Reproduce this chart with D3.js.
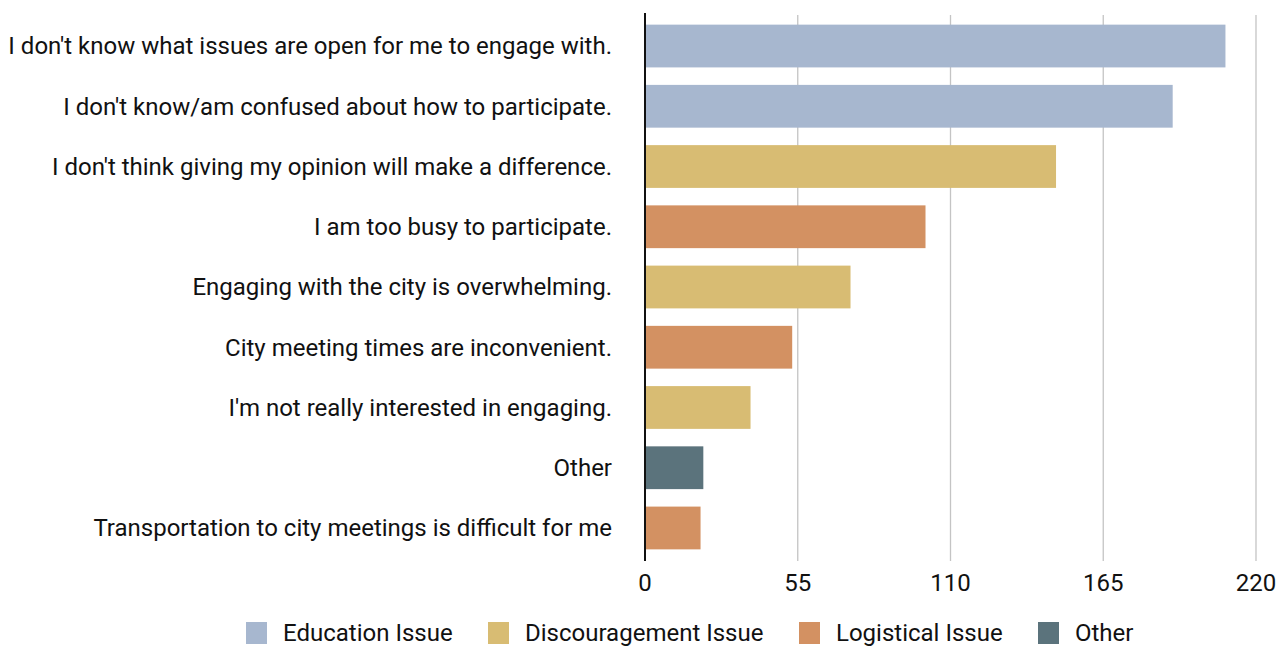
<!DOCTYPE html>
<html>
<head>
<meta charset="utf-8">
<script src="https://cdn.jsdelivr.net/npm/d3@7"></script>
<style>
  body { margin: 0; background: #fff; }
  text { font-family: Roboto, "Noto Sans", sans-serif; }
</style>
</head>
<body>
<script>
// survey answers, top to bottom
var reasons = [
  "I don't know what issues are open for me to engage with.",
  "I don't know/am confused about how to participate.",
  "I don't think giving my opinion will make a difference.",
  "I am too busy to participate.",
  "Engaging with the city is overwhelming.",
  "City meeting times are inconvenient.",
  "I'm not really interested in engaging.",
  "Other",
  "Transportation to city meetings is difficult for me"
];
var counts = [209, 190, 148, 101, 74, 53, 38, 21, 20];
var kinds = ["Education Issue", "Education Issue", "Discouragement Issue", "Logistical Issue",
  "Discouragement Issue", "Logistical Issue", "Discouragement Issue", "Other", "Logistical Issue"];
var legendKinds = ["Education Issue", "Discouragement Issue", "Logistical Issue", "Other"];
var kindColors = ["#a7b7cf", "#d8bc73", "#d39162", "#5b737c"];
var xTicks = [0, 55, 110, 165, 220];

var W = 1286, H = 646;
var plotL = 645, plotR = 1256, plotT = 15, plotB = 559;
var fs = 24;

var svg = d3.select("body").append("svg")
  .attr("width", W)
  .attr("height", H);

var x = d3.scaleLinear().domain([0, 220]).range([plotL, plotR]);
var y = d3.scaleBand().domain(reasons).range([plotT, plotB]).paddingInner(0.29).paddingOuter(0.16);
var color = d3.scaleOrdinal().domain(legendKinds).range(kindColors);

// grid
svg.append("g").selectAll("line")
  .data(xTicks.slice(1))
  .enter().append("line")
  .attr("x1", function(d){ return x(d); })
  .attr("x2", function(d){ return x(d); })
  .attr("y1", plotT)
  .attr("y2", plotB + 2)
  .attr("stroke", "#c4c4c4")
  .attr("stroke-width", 1.3);

// bars
svg.append("g").selectAll("rect")
  .data(reasons)
  .enter().append("rect")
  .attr("x", x(0))
  .attr("y", function(d){ return y(d); })
  .attr("width", function(d, i){ return x(counts[i]) - x(0); })
  .attr("height", y.bandwidth())
  .attr("fill", function(d, i){ return color(kinds[i]); });

// baseline
svg.append("line")
  .attr("x1", x(0)).attr("x2", x(0))
  .attr("y1", plotT - 2).attr("y2", plotB + 2)
  .attr("stroke", "#111")
  .attr("stroke-width", 2);

// category labels
svg.append("g").selectAll("text")
  .data(reasons)
  .enter().append("text")
  .attr("x", 612)
  .attr("y", function(d){ return y(d) + y.bandwidth() / 2; })
  .attr("dy", "0.35em")
  .attr("text-anchor", "end")
  .attr("font-size", fs)
  .attr("fill", "#111")
  .text(function(d){ return d; });

// x tick labels
svg.append("g").selectAll("text")
  .data(xTicks)
  .enter().append("text")
  .attr("x", function(d){ return x(d); })
  .attr("y", 591)
  .attr("text-anchor", "middle")
  .attr("font-size", fs)
  .attr("fill", "#111")
  .text(function(d){ return d; });

// legend
var legendX = [246, 488, 799, 1038];
var lg = svg.append("g").selectAll("g")
  .data(legendKinds)
  .enter().append("g")
  .attr("transform", function(d, i){ return "translate(" + legendX[i] + ",622)"; });
lg.append("rect")
  .attr("width", 21).attr("height", 22)
  .attr("fill", function(d){ return color(d); });
lg.append("text")
  .attr("x", 37).attr("y", 11)
  .attr("dy", "0.35em")
  .attr("font-size", fs)
  .attr("fill", "#111")
  .text(function(d){ return d; });
</script>
</body>
</html>
